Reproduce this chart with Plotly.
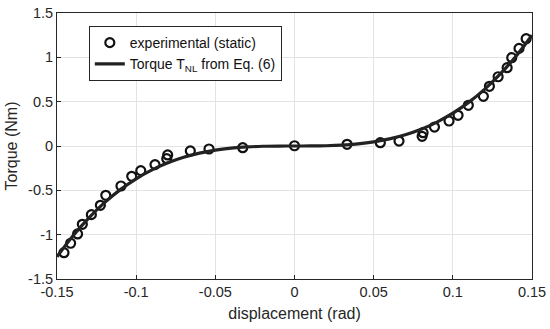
import plotly.graph_objects as go

# experimental (static) points
exp_x = [-0.1456, -0.1414, -0.137, -0.134, -0.1283, -0.1226, -0.1192, -0.1096, -0.1028, -0.0971,
         -0.0881, -0.0807, -0.0801, -0.0658, -0.054, -0.0327, 0.0, 0.0332, 0.0542, 0.066,
         0.0806, 0.0812, 0.0884, 0.0976, 0.1033, 0.1098, 0.1193, 0.1231, 0.1286, 0.1343,
         0.1372, 0.1418, 0.1463]
exp_y = [-1.203, -1.097, -0.992, -0.883, -0.774, -0.669, -0.556, -0.451, -0.342, -0.278,
         -0.210, -0.143, -0.101, -0.056, -0.034, -0.019, 0.003, 0.019, 0.037, 0.056,
         0.109, 0.150, 0.214, 0.282, 0.346, 0.459, 0.560, 0.673, 0.781, 0.883,
         0.996, 1.101, 1.210]

# model curve T_NL
fit_x = [-0.15, -0.14, -0.13, -0.12, -0.11, -0.10, -0.09, -0.08, -0.07, -0.06, -0.05, -0.04,
         -0.03, -0.02, -0.01, 0.0, 0.01, 0.02, 0.03, 0.04, 0.05, 0.06, 0.07, 0.08, 0.09,
         0.10, 0.11, 0.12, 0.13, 0.14, 0.15]
fit_y = [-1.249, -1.015, -0.813, -0.639, -0.492, -0.370, -0.270, -0.189, -0.127, -0.080, -0.046,
         -0.024, -0.010, -0.003, -0.0004, 0.0, 0.0004, 0.003, 0.010, 0.024, 0.046, 0.080, 0.127,
         0.189, 0.270, 0.370, 0.492, 0.639, 0.813, 1.015, 1.249]

x_ticks = [-0.15, -0.1, -0.05, 0, 0.05, 0.1, 0.15]
x_ticktext = ["-0.15", "-0.1", "-0.05", "0", "0.05", "0.1", "0.15"]
y_ticks = [-1.5, -1, -0.5, 0, 0.5, 1, 1.5]
y_ticktext = ["-1.5", "-1", "-0.5", "0", "0.5", "1", "1.5"]

axcol = "#262626"
font = "Liberation Sans, Arial, sans-serif"

fig = go.Figure()
fig.add_trace(go.Scatter(
    x=exp_x, y=exp_y, mode="markers", name="experimental (static)",
    marker=dict(symbol="circle-open", size=9, color="#111111", line=dict(width=2.2, color="#111111")),
))
fig.add_trace(go.Scatter(
    x=fit_x, y=fit_y, mode="lines", name="Torque T<sub>NL</sub> from Eq. (6)",
    line=dict(color="#222222", width=3.2, shape="spline"),
))

axis_common = dict(
    showline=True, linecolor=axcol, linewidth=1, mirror=True,
    ticks="inside", ticklen=4, tickcolor=axcol,
    showgrid=True, gridcolor="#e3e3e3", gridwidth=1, zeroline=False,
    tickfont=dict(family=font, size=14.5, color=axcol),
    automargin=False, ticklabeloverflow="allow",
)

fig.update_layout(
    width=550, height=329,
    margin=dict(l=57, r=18, t=13, b=50),
    paper_bgcolor="white", plot_bgcolor="white",
    font=dict(family=font, size=16, color=axcol),
    xaxis=dict(range=[-0.15, 0.15], tickvals=x_ticks, ticktext=x_ticktext,
               title=dict(text="displacement (rad)", font=dict(family=font, size=16, color=axcol), standoff=8),
               **axis_common),
    yaxis=dict(range=[-1.5, 1.5], tickvals=y_ticks, ticktext=y_ticktext,
               title=dict(text="Torque (Nm)", font=dict(family=font, size=16, color=axcol), standoff=6),
               **axis_common),
    legend=dict(x=0.067, y=0.951, xanchor="left", yanchor="top",
                bgcolor="white", bordercolor=axcol, borderwidth=1,
                font=dict(family=font, size=14, color="#111111"),
                tracegroupgap=0, itemwidth=30),
    showlegend=True,
)

# remove the default page margin so the 550x329 figure fills the window exactly
fig.write_html("out.html", config={"displayModeBar": False},
               post_script="document.body.style.margin='0';")
